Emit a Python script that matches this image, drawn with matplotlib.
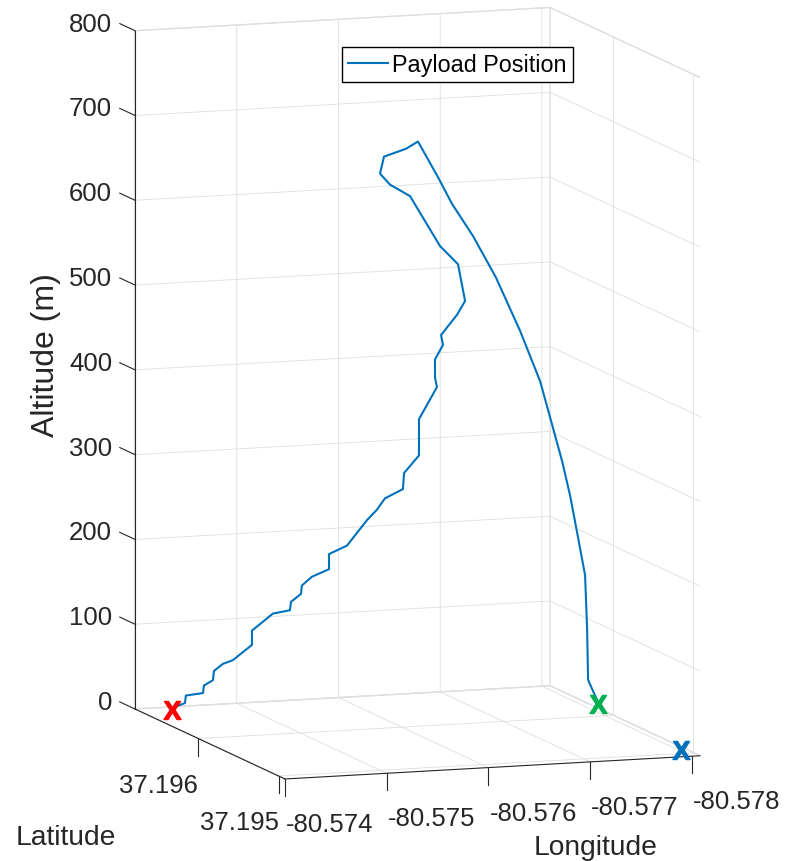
import matplotlib
matplotlib.use("Agg")
import matplotlib.pyplot as plt
from matplotlib.transforms import IdentityTransform
from mpl_toolkits.mplot3d import proj3d

plt.rcParams["font.family"] = ["Liberation Sans", "DejaVu Sans"]
plt.rcParams["mathtext.fontset"] = "custom"
plt.rcParams["mathtext.bf"] = "Liberation Sans:bold"
plt.rcParams["grid.color"] = "#dedede"
plt.rcParams["grid.linewidth"] = 0.6

# GPS track of the payload (lat, lon in degrees, altitude in metres)
latitude = [
    37.196790, 37.196785, 37.196781, 37.196776, 37.196772, 37.196767, 37.196762,
    37.196758, 37.196753, 37.196748, 37.196744, 37.196739, 37.196734, 37.196730,
    37.196725, 37.196721, 37.196716, 37.196711, 37.196707, 37.196702, 37.196697,
    37.196693, 37.196688, 37.196683, 37.196679, 37.196674, 37.196670, 37.196665,
    37.196660, 37.196656, 37.196651, 37.196646, 37.196642, 37.196637, 37.196632,
    37.196628, 37.196623, 37.196619, 37.196614, 37.196609, 37.196605, 37.196600,
    37.196571, 37.196543, 37.196514, 37.196486, 37.196457, 37.196429, 37.196400,
    37.196371, 37.196343, 37.196314, 37.196286, 37.196257, 37.196229, 37.196200,
]
longitude = [
    -80.574422, -80.574487, -80.574493, -80.574657, -80.574663, -80.574748, -80.574754,
    -80.574839, -80.574933, -80.575117, -80.575113, -80.575316, -80.575479, -80.575486,
    -80.575580, -80.575586, -80.575681, -80.575845, -80.575841, -80.576014, -80.576207,
    -80.576302, -80.576377, -80.576550, -80.576557, -80.576700, -80.576697, -80.576870,
    -80.576847, -80.576843, -80.576918, -80.576895, -80.577049, -80.577124, -80.577051,
    -80.576870, -80.576572, -80.576372, -80.576270, -80.576305, -80.576518, -80.576632,
    -80.576806, -80.576922, -80.577106, -80.577309, -80.577523, -80.577697, -80.577793,
    -80.577868, -80.577925, -80.577981, -80.578027, -80.578024, -80.578012, -80.578078,
]
altitude = [
    1, 4, 13, 15, 24, 30, 41, 49, 53, 70, 87, 106, 109, 119,
    128, 138, 148, 156, 174, 183, 212, 224, 237, 247, 266, 286, 329, 366,
    377, 399, 416, 428, 451, 467, 511, 534, 595, 610, 624, 644, 652, 660,
    618, 587, 549, 500, 437, 378, 327, 285, 245, 196, 153, 92, 32, 9,
]

# launch site, landing site and predicted landing
markLat = [37.196727, 37.196292, 37.195087]
markLon = [-80.574311, -80.578163, -80.578028]
markColors = ["#ff0000", "#00b050", "#0072bd"]

latTicks = [37.195, 37.196]
lonTicks = [-80.574, -80.575, -80.576, -80.577, -80.578]
altTicks = [0, 100, 200, 300, 400, 500, 600, 700, 800]

latLim = (37.19492, 37.19679)
lonLim = (-80.57808, -80.574)
altLim = (0, 800)

W, H = 797, 862
textColor = (0.15, 0.15, 0.15)
tickSize = 18.5
labelSize = 20.3

fig = plt.figure(figsize=(W / 100, H / 100), dpi=100)
ax = fig.add_axes([0.1, 0.1, 0.8, 0.8 * W / H], projection="3d", proj_type="ortho")
ax.view_init(elev=9.3, azim=160.9)
ax.set_box_aspect((458, 439, 687))

ax.plot(latitude, longitude, altitude, color="#0072bd", lw=1.5, label="Payload Position")
for la, lo, c in zip(markLat, markLon, markColors):
    ax.plot([la], [lo], [0], linestyle="none", marker=r"$\mathbf{X}$", ms=13, color=c)

# tick marks: lat/lon ticks hang below the floor, altitude ticks stick out the back
for t in latTicks:
    ax.plot([t, t], [lonLim[1], lonLim[1]], [0, -20], color=textColor, lw=0.8)
for t in lonTicks:
    ax.plot([latLim[0], latLim[0]], [t, t], [0, -20], color=textColor, lw=0.8)
for t in altTicks:
    ax.plot([latLim[1], latLim[1] + 0.00019], [lonLim[1], lonLim[1]], [t, t],
            color=textColor, lw=0.8)

ax.set_xlim(latLim)
ax.set_ylim(lonLim)
ax.set_zlim(altLim)
ax.set_xticks(latTicks)
ax.set_yticks(lonTicks)
ax.set_zticks(altTicks)
ax.set_xticklabels([])
ax.set_yticklabels([])
ax.set_zticklabels([])
ax.zaxis.set_ticks_position("upper")

for axis in (ax.xaxis, ax.yaxis, ax.zaxis):
    axis.set_pane_color((1, 1, 1, 1))
    axis.pane.set_edgecolor("#dedede")
    axis.line.set_color(textColor)
    axis.line.set_linewidth(0.8)
    axis._axinfo["tick"]["inward_factor"] = 0.0
    axis._axinfo["tick"]["outward_factor"] = 0.0
    axis.label.set_visible(False)
    axis.offsetText.set_visible(False)

# scale and shift the axes so the box sits where it should in the figure
fig.canvas.draw()
M = ax.get_proj()


def axesFrac(x, y, z):
    xs, ys, _ = proj3d.proj_transform(x, y, z, M)
    return ax.transAxes.inverted().transform(ax.transData.transform((xs, ys)))


fBot = axesFrac(latLim[1], lonLim[1], altLim[0])
fTop = axesFrac(latLim[1], lonLim[1], altLim[1])
fRight = axesFrac(latLim[0], lonLim[0], altLim[0])
side = (710 - 31.7) / (fTop[1] - fBot[1])
left = ((135 - fBot[0] * side) + (700 - fRight[0] * side)) / 2
bottom = (H - 710) - fBot[1] * side
ax.set_position([left / W, bottom / H, side / W, side / H])


def toPx(x, y, z):
    xs, ys, _ = proj3d.proj_transform(x, y, z, M)
    return ax.transData.transform((xs, ys))


px = IdentityTransform()
for t in altTicks:
    p = toPx(latLim[1], lonLim[1], t)
    fig.text(p[0] - 23, p[1] + 7, str(t), transform=px, ha="right", va="center",
             fontsize=tickSize, color=textColor)
for t in latTicks:
    p = toPx(t, lonLim[1], 0)
    fig.text(p[0], p[1] - 53, "%.3f" % t, transform=px, ha="right", va="baseline",
             fontsize=tickSize, color=textColor)
for t in lonTicks:
    p = toPx(latLim[0], t, 0)
    fig.text(p[0] + 1, p[1] - 52, "%.3f" % t, transform=px, ha="left", va="baseline",
             fontsize=tickSize, color=textColor)

fig.text(66, 17, "Latitude", transform=px, ha="center", va="baseline",
         fontsize=labelSize, color=textColor)
fig.text(596, 7, "Longitude", transform=px, ha="center", va="baseline",
         fontsize=labelSize, color=textColor)
fig.text(46, H - 355, "Altitude (m)", transform=px, ha="center", va="center",
         rotation=90, fontsize=23, color=textColor)

ax.legend(loc="upper left", bbox_to_anchor=(342 / W, 1 - 48 / H),
          bbox_transform=fig.transFigure, fontsize=16.8, fancybox=False,
          edgecolor="black", framealpha=1, borderaxespad=0, borderpad=0.25,
          handlelength=1.7, handletextpad=0.2)

fig.savefig("out.png", dpi=100)
